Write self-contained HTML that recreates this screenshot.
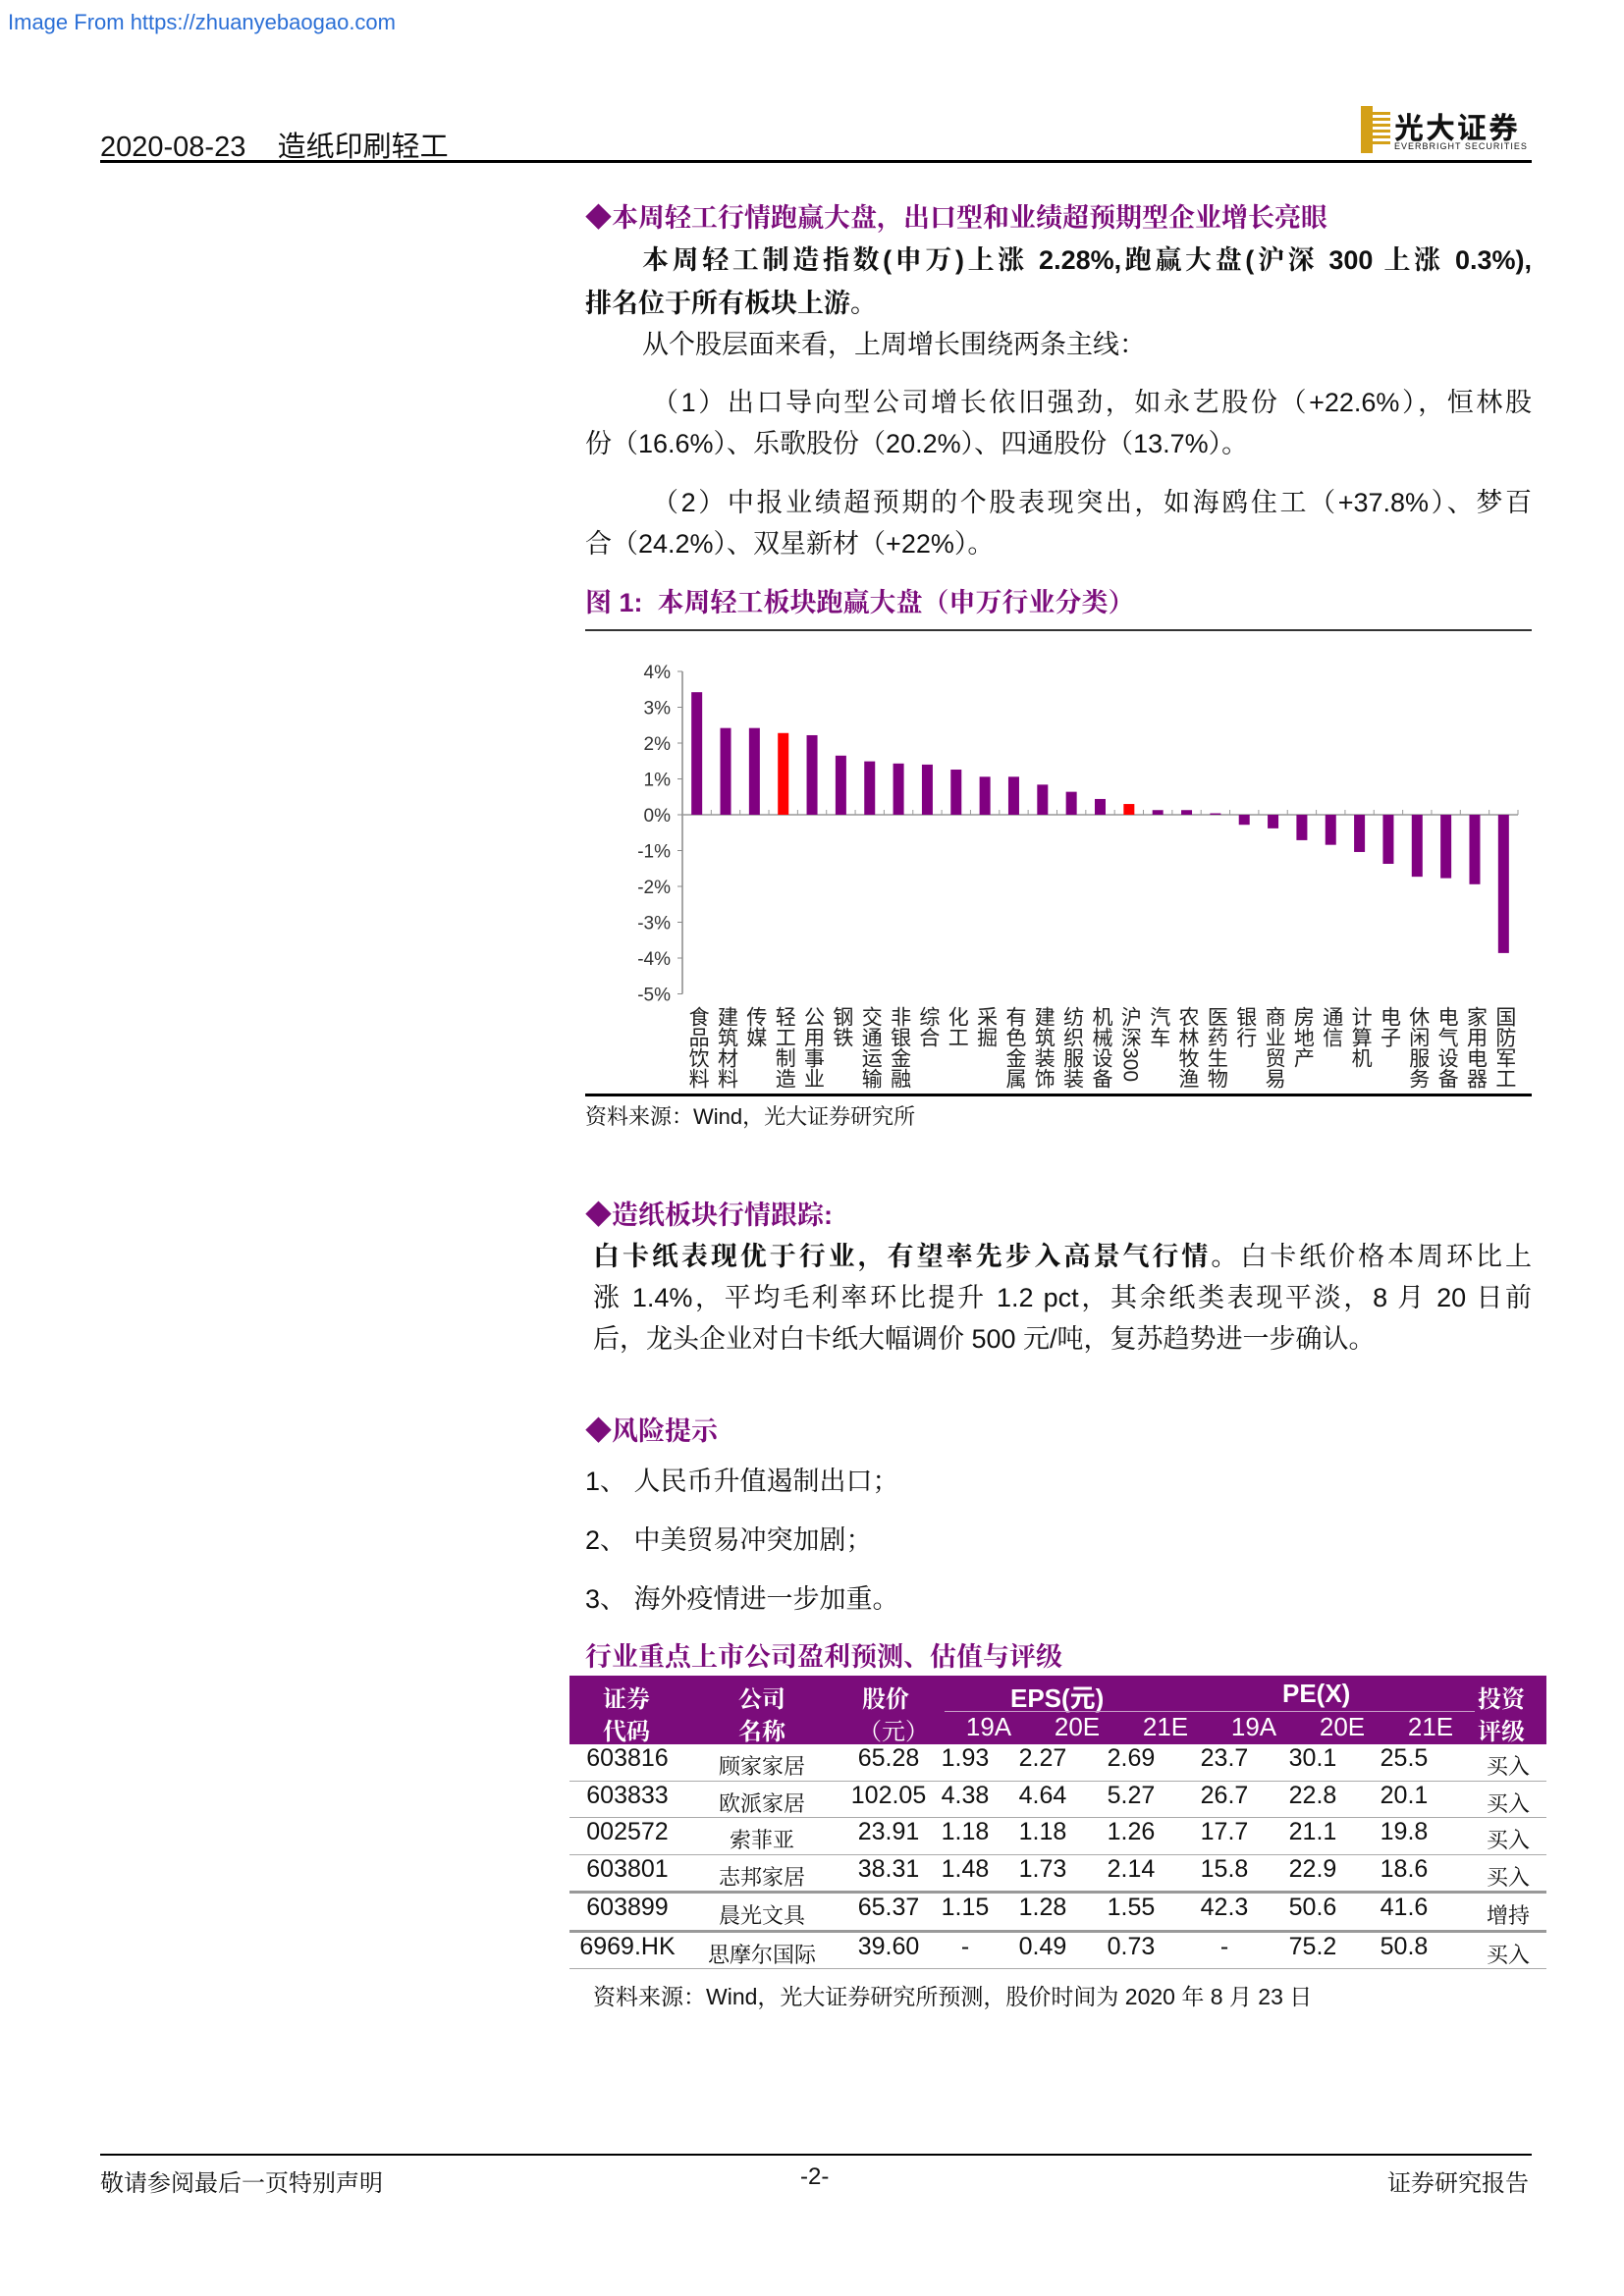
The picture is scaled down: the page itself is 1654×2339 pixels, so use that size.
<!DOCTYPE html>
<html><head><meta charset="utf-8">
<style>
html,body{margin:0;padding:0;background:#fff}
body{width:1654px;height:2339px;position:relative;overflow:hidden;font-family:"Liberation Sans","Noto Serif CJK SC",serif;color:#111}
.a{position:absolute;white-space:nowrap}
.p{position:absolute;left:596px;width:964px;font-size:27px;line-height:34px;white-space:nowrap}
.j{text-align:justify;text-align-last:justify}
.h{color:#7b0c7b;font-weight:bold;font-family:"Liberation Sans","Noto Serif CJK SC",serif}
.sans{font-family:"Liberation Sans","Noto Sans CJK SC",sans-serif}
table{border-collapse:collapse}
</style></head><body>
<div class="a sans" style="left:8px;top:10px;font-size:22px;color:#2b6fd6">Image From https://zhuanyebaogao.com</div>
<div class="a sans" style="left:102px;top:126px;font-size:29px">2020-08-23&nbsp;&nbsp;&nbsp; 造纸印刷轻工</div>
<div class="a" style="left:1386px;top:108px;width:174px;height:48px">
 <div style="position:absolute;left:0;top:0;width:12px;height:48px;background:#d4a017"></div>
 <div style="position:absolute;left:12px;top:6px;width:18px;height:36px;background:repeating-linear-gradient(#d4a017 0 3px,#fff 3px 6px)"></div>
 <div class="sans" style="position:absolute;left:34px;top:-2px;font-size:30px;font-weight:bold;letter-spacing:2px">光大证券</div>
 <div class="sans" style="position:absolute;left:34px;top:36px;font-size:9px;letter-spacing:1px">EVERBRIGHT SECURITIES</div>
</div>
<div class="a" style="left:102px;top:163px;width:1458px;height:3px;background:#000"></div>

<div class="p h" style="top:205px">◆本周轻工行情跑赢大盘，出口型和业绩超预期型企业增长亮眼</div>
<div class="p j" style="top:248px;font-weight:bold;padding-left:58px;width:906px">本周轻工制造指数(申万)上涨 2.28%,跑赢大盘(沪深 300 上涨 0.3%),</div>
<div class="p" style="top:292px;font-weight:bold">排名位于所有板块上游。</div>
<div class="p" style="top:334px;padding-left:58px">从个股层面来看，上周增长围绕两条主线：</div>
<div class="p j" style="top:393px;padding-left:68px;width:896px">（1）出口导向型公司增长依旧强劲，如永艺股份（+22.6%），恒林股</div>
<div class="p" style="top:435px">份（16.6%）、乐歌股份（20.2%）、四通股份（13.7%）。</div>
<div class="p j" style="top:495px;padding-left:68px;width:896px">（2）中报业绩超预期的个股表现突出，如海鸥住工（+37.8%）、梦百</div>
<div class="p" style="top:537px">合（24.2%）、双星新材（+22%）。</div>
<div class="p h" style="top:597px">图 1:&nbsp; 本周轻工板块跑赢大盘（申万行业分类）</div>
<div class="a" style="left:596px;top:641px;width:964px;height:2px;background:#333"></div>

<svg class="a" id="chart" style="left:596px;top:657px" width="964" height="460"></svg>
<div class="a" style="left:596px;top:1114px;width:964px;height:3px;background:#000"></div>
<div class="a" style="left:596px;top:1121px;font-size:22px">资料来源：Wind，光大证券研究所</div>

<div class="p h" style="top:1221px">◆造纸板块行情跟踪:</div>
<div class="p j" style="top:1263px;left:604px;width:956px"><b>白卡纸表现优于行业，有望率先步入高景气行情。</b>白卡纸价格本周环比上</div>
<div class="p j" style="top:1305px;left:604px;width:956px">涨 1.4%，平均毛利率环比提升 1.2 pct，其余纸类表现平淡，8 月 20 日前</div>
<div class="p" style="top:1347px;left:604px">后，龙头企业对白卡纸大幅调价 500 元/吨，复苏趋势进一步确认。</div>

<div class="p h" style="top:1441px">◆风险提示</div>
<div class="p" style="top:1492px">1、 人民币升值遏制出口；</div>
<div class="p" style="top:1552px">2、 中美贸易冲突加剧；</div>
<div class="p" style="top:1612px">3、 海外疫情进一步加重。</div>
<div class="p h" style="top:1671px">行业重点上市公司盈利预测、估值与评级</div>

<div class="a" style="left:580px;top:1707px;width:995px">
<div style="position:relative;height:70px;background:#7b0c7b;color:#fff;font-weight:bold;font-size:24px">
 <div class="a" style="left:34px;top:4px">证券</div><div class="a" style="left:34px;top:37px">代码</div>
 <div class="a" style="left:172px;top:4px">公司</div><div class="a" style="left:172px;top:37px">名称</div>
 <div class="a" style="left:298px;top:4px">股价</div><div class="a" style="left:294px;top:37px;font-weight:normal">（元）</div>
 <div class="a sans" style="left:449px;top:3px;font-size:26px">EPS(元)</div>
 <div class="a sans" style="left:726px;top:3px;font-size:26px">PE(X)</div>
 <div class="a" style="left:382px;top:36px;width:540px;height:1px;background:#c9a0c9"></div>
 <div class="a" style="left:925px;top:4px">投资</div><div class="a" style="left:925px;top:37px">评级</div>
 <div class="a sans" style="left:382px;top:37px;width:540px;font-weight:normal;font-size:26px;display:flex;justify-content:space-around"><span>19A</span><span>20E</span><span>21E</span><span>19A</span><span>20E</span><span>21E</span></div>
</div>
<div id="rows"></div>
</div>
<div class="a" style="left:604px;top:2016px;font-size:23px">资料来源：Wind，光大证券研究所预测，股价时间为 2020 年 8 月 23 日</div>

<div class="a" style="left:102px;top:2194px;width:1458px;height:2px;background:#000"></div>
<div class="a" style="left:102px;top:2204px;font-size:24px">敬请参阅最后一页特别声明</div>
<div class="a" style="left:815px;top:2204px;font-size:24px">-2-</div>
<div class="a" style="left:1413px;top:2204px;font-size:24px">证券研究报告</div>

<script>
const categories=["食品饮料","建筑材料","传媒","轻工制造","公用事业","钢铁","交通运输","非银金融","综合","化工","采掘","有色金属","建筑装饰","纺织服装","机械设备","沪深300","汽车","农林牧渔","医药生物","银行","商业贸易","房地产","通信","计算机","电子","休闲服务","电气设备","家用电器","国防军工"];
const values=[3.42,2.42,2.42,2.28,2.22,1.65,1.49,1.43,1.40,1.26,1.06,1.06,0.84,0.64,0.44,0.30,0.13,0.13,0.04,-0.28,-0.38,-0.71,-0.84,-1.04,-1.37,-1.73,-1.77,-1.94,-3.86];
const highlight=["轻工制造","沪深300"];
const yTicks=[4,3,2,1,0,-1,-2,-3,-4,-5];
const NS="http://www.w3.org/2000/svg";
const svg=document.getElementById('chart');
const X0=99,X1=950,Y4=27,Y0=173;
const unit=(Y0-Y4)/4;
function y(v){return Y0-v*unit;}
const step=(X1-X0)/categories.length;
function xc(i){return X0+step*(i+0.5);}
function mk(t,a){const e=document.createElementNS(NS,t);for(const k in a)e.setAttribute(k,a[k]);svg.appendChild(e);return e;}
const ax=mk('line',{x1:X0,x2:X0,y1:y(4),y2:y(-5),stroke:'#888','stroke-width':1.5});


yTicks.forEach(t=>{
 const tk=mk('line',{x1:X0-5,x2:X0,y1:y(t),y2:y(t),stroke:'#888'});
 
 
 const tx=mk('text',{x:X0-12,y:y(t)+7,'text-anchor':'end','font-size':19,fill:'#333','font-family':'Liberation Sans, sans-serif'});
 tx.textContent=t+'%';
 
 
});
const xa=mk('line',{x1:X0,x2:X1,y1:y(0),y2:y(0),stroke:'#999','stroke-width':1.5});


categories.forEach((c,i)=>{
 const v=values[i];
 const tk=mk('line',{x1:X0+step*(i+1),x2:X0+step*(i+1),y1:y(0),y2:y(0)-5,stroke:'#999'});
 
 
 const r=mk('rect',{x:xc(i)-5.5,width:11,y:Math.min(y(v),y(0)),height:Math.abs(y(v)-y(0)),fill:highlight.includes(c)?'#ff0000':'#800080'});
 
 
 const t=mk('text',{x:xc(i)+1,y:368,'font-size':21,fill:'#222','writing-mode':'tb','font-family':'Liberation Sans, Noto Sans CJK SC, sans-serif'});
 t.textContent=c;
 
 
});
const rowsData=[["603816","顾家家居","65.28","1.93","2.27","2.69","23.7","30.1","25.5","买入"],["603833","欧派家居","102.05","4.38","4.64","5.27","26.7","22.8","20.1","买入"],["002572","索菲亚","23.91","1.18","1.18","1.26","17.7","21.1","19.8","买入"],["603801","志邦家居","38.31","1.48","1.73","2.14","15.8","22.9","18.6","买入"],["603899","晨光文具","65.37","1.15","1.28","1.55","42.3","50.6","41.6","增持"],["6969.HK","思摩尔国际","39.60","-","0.49","0.73","-","75.2","50.8","买入"]];
const centers=[59,196,325,403,482,572,667,757,850,956];
const rowsEl=document.getElementById('rows');
rowsData.forEach((r,ri)=>{
 const d=document.createElement('div');
 
 
 d.style.cssText='position:relative;height:36.5px;border-bottom:'+(ri>=3&&ri<5?'3px solid #999':'1.5px solid #aaa')+';font-size:25px';
 r.forEach((v,ci)=>{
  const s=document.createElement('div');
  s.className='a'+(ci==1||ci==9?'':' sans');
  s.style.cssText='left:'+(centers[ci]-70)+'px;width:140px;text-align:center;top:'+(ci==1||ci==9?6:0)+'px;font-size:'+(ci==1||ci==9?22:25)+'px';
  s.textContent=v;
  d.appendChild(s);
 });
 rowsEl.appendChild(d);
});
</script>
</body></html>
